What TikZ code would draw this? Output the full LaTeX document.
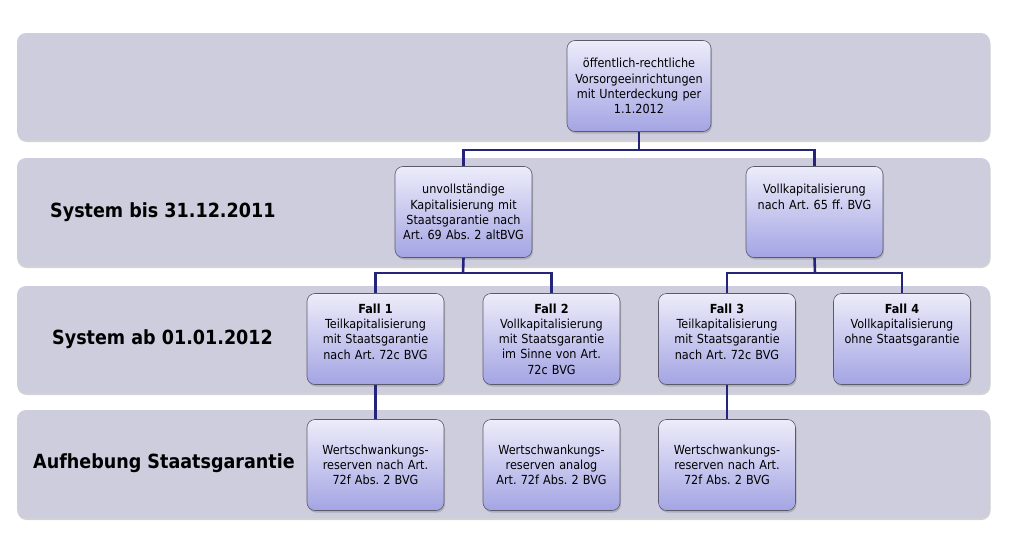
\documentclass[tikz,border=0pt]{standalone}
\usepackage{fontspec}
\setmainfont{DejaVu Sans Condensed}
\usetikzlibrary{shadows}
\definecolor{bandfill}{HTML}{CDCDDD}
\definecolor{boxtop}{HTML}{ECECFA}
\definecolor{boxbot}{HTML}{A4A4E4}
\definecolor{boxline}{HTML}{5A5A6A}
\definecolor{conn}{HTML}{24247A}
\tikzset{
  band/.style={fill=bandfill, draw=none, rounded corners=9pt,
    drop shadow={opacity=0.35, shadow xshift=0.5pt, shadow yshift=-2pt}},
  box/.style={draw=boxline, line width=0.6pt, rounded corners=8pt,
    top color=boxtop, bottom color=boxbot,
    minimum width=137pt, minimum height=91pt, inner sep=1pt,
    text width=135pt, align=center, font=\fontsize{12.5}{15.3}\selectfont,
    drop shadow={opacity=0.4, shadow xshift=1pt, shadow yshift=-2pt}},
  rowlabel/.style={anchor=west, inner sep=0pt, font=\fontsize{19.5}{22}\selectfont\bfseries},
  link/.style={draw=conn, line width=2.6pt}
}
\begin{document}
\frenchspacing
\begin{tikzpicture}[x=1pt,y=-1pt]
\useasboundingbox (0,0) rectangle (1013,538);
% bands
\path[band] (17,33) rectangle (990,140);
\path[band] (17,158) rectangle (990,266);
\path[band] (17,286) rectangle (990,393);
\path[band] (17,410) rectangle (990,518);
% row labels
\node[rowlabel] (l1) at (50,212) {System bis 31.12.2011};
\node[rowlabel] (l2) at (52,339) {System ab 01.01.2012};
\node[rowlabel] (l3) at (33,463) {Aufhebung Staatsgarantie};
% connector junctions
\coordinate (c0) at (639,150);
\coordinate (c1) at (463,273);
\coordinate (c2) at (815,273);
% boxes
\node[box, minimum width=144pt, text width=142pt] (top) at (639,86) {öffentlich-rechtliche\\Vorsorgeeinrichtungen\\mit Unterdeckung per\\1.1.2012};
\node[box] (a) at (463.5,212) {unvollständige\\Kapitalisierung mit\\Staatsgarantie nach\\Art. 69 Abs. 2 altBVG};
\node[box] (b) at (814.5,212) {Vollkapitalisierung\\nach Art. 65 ff. BVG\\[15.3pt]\mbox{}};
\node[box] (f1) at (375.5,339) {\textbf{Fall 1}\\Teilkapitalisierung\\mit Staatsgarantie\\nach Art. 72c BVG\\\mbox{}};
\node[box] (f2) at (551.5,339) {\textbf{Fall 2}\\Vollkapitalisierung\\mit Staatsgarantie\\im Sinne von Art.\\72c BVG};
\node[box] (f3) at (727,339) {\textbf{Fall 3}\\Teilkapitalisierung\\mit Staatsgarantie\\nach Art. 72c BVG\\\mbox{}};
\node[box] (f4) at (902,339) {\textbf{Fall 4}\\Vollkapitalisierung\\ohne Staatsgarantie\\[15.3pt]\mbox{}};
\node[box] (w1) at (375.5,465) {Wertschwankungs-\\reserven nach Art.\\72f Abs. 2 BVG};
\node[box] (w2) at (551.5,465) {Wertschwankungs-\\reserven analog\\Art. 72f Abs. 2 BVG};
\node[box] (w3) at (727,465) {Wertschwankungs-\\reserven nach Art.\\72f Abs. 2 BVG};
% connectors
\draw[link] (top.south) -- (c0);
\draw[link] (c0) -| (a.north);
\draw[link] (c0) -| (b.north);
\draw[link] (a.south) -- (c1);
\draw[link] (c1) -| (f1.north);
\draw[link] (c1) -| (f2.north);
\draw[link] (b.south) -- (c2);
\draw[link] (c2) -| (f3.north);
\draw[link] (c2) -| (f4.north);
\draw[link] (f1.south) -- (w1.north);
\draw[link] (f3.south) -- (w3.north);
\end{tikzpicture}
\end{document}
